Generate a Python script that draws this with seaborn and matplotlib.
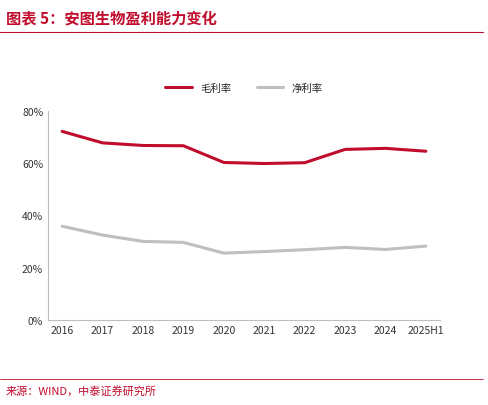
import pandas as pd
import matplotlib.pyplot as plt
import seaborn as sns
from matplotlib.ticker import PercentFormatter

years = ['2016', '2017', '2018', '2019', '2020', '2021', '2022', '2023', '2024', '2025H1']
gross_margin = [72.2, 67.8, 66.8, 66.7, 60.3, 59.9, 60.2, 65.3, 65.7, 64.6]
net_margin = [35.9, 32.5, 30.1, 29.7, 25.6, 26.2, 26.9, 27.8, 27.0, 28.3]
series_names = ['毛利率', '净利率']

df = pd.DataFrame({'year': years * 2,
                   'value': gross_margin + net_margin,
                   'series': [series_names[0]] * len(years) + [series_names[1]] * len(years)})

sns.set_theme(style='white')
plt.rcParams['font.family'] = ['Noto Sans CJK SC', 'DejaVu Sans']

fig = plt.figure(figsize=(4.88, 4.06), dpi=100)
ax = fig.add_axes([48 / 488, 1 - 321 / 406, 392 / 488, 209 / 406])

sns.lineplot(data=df, x='year', y='value', hue='series', sort=False,
             palette=['#C00D2D', '#BFBFBF'], linewidth=2.2, ax=ax)

ax.set_ylim(0, 80)
ax.set_yticks([0, 20, 40, 60, 80])
ax.yaxis.set_major_formatter(PercentFormatter(decimals=0))
ax.set_xlim(-0.35, len(years) - 0.65)
ax.set_xlabel('')
ax.set_ylabel('')
ax.tick_params(labelsize=7.5, colors='#333333', length=0)
for s in ['top', 'right']:
    ax.spines[s].set_visible(False)
for s in ['left', 'bottom']:
    ax.spines[s].set_color('#BFBFBF')
    ax.spines[s].set_linewidth(0.8)

ax.legend(loc='center', bbox_to_anchor=(0.5, 1.11), ncol=2, frameon=False,
          fontsize=7.5, handlelength=2.5, columnspacing=2.5)

# title and footer
fig.text(0.012, 0.955, '图表 5：安图生物盈利能力变化', color='#C00D2D', fontsize=11,
         fontweight='bold', style='italic', va='center')
fig.add_artist(plt.Line2D([0.0, 0.99], [0.918, 0.918], color='#C00D2D', linewidth=0.8))
fig.add_artist(plt.Line2D([0.0, 0.99], [0.065, 0.065], color='#C00D2D', linewidth=0.6))
fig.text(0.012, 0.035, '来源：WIND，中泰证券研究所', color='#C00D2D', fontsize=8, va='center')

fig.savefig('out.png', dpi=100)
